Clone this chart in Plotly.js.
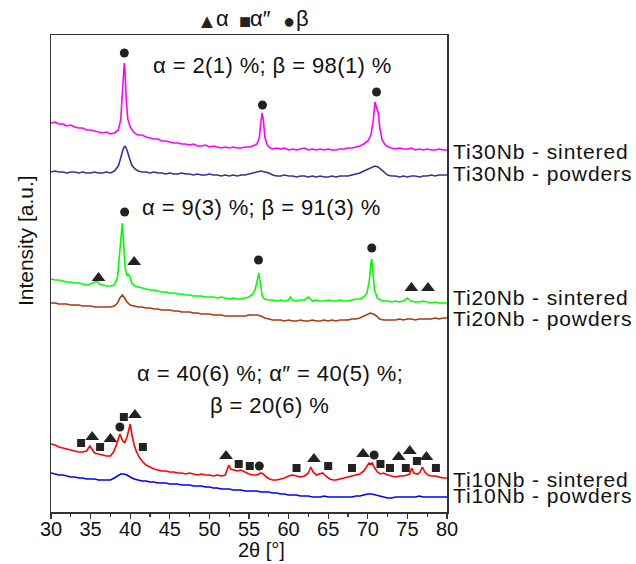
<!DOCTYPE html>
<html><head><meta charset="utf-8">
<script src="https://cdn.plot.ly/plotly-3.0.1.min.js"></script>
<style>html,body{margin:0;padding:0;background:#fff;}#chart{width:636px;height:564px;}</style>
</head><body><div id="chart"></div>
<script>
// Ti30Nb sintered
const t30sX = [30,30.5,31,31.5,32,32.5,33,33.5,34,34.5,35,35.5,36,36.5,37,37.5,38,38.5,38.8,39.0,39.15,39.25,39.35,39.5,39.7,40,40.5,41,41.5,42,42.5,43,43.5,44,44.5,45,45.5,46,46.5,47,47.5,48,48.5,49,49.5,50,50.5,51,51.5,52,52.5,53,53.5,54,54.5,55,55.5,56,56.3,56.5,56.65,56.8,57.0,57.3,57.7,58,58.5,59,59.5,60,60.5,61,61.5,62,62.5,63,63.5,64,64.5,65,65.5,66,66.5,67,67.5,68,68.5,69,69.5,70,70.4,70.7,70.9,71.05,71.2,71.35,71.5,71.8,72.2,72.6,73,73.5,74,74.5,75,75.5,76,76.5,77,77.5,78,78.5,79,79.5,80];
const t30sY = [389,390,388,388,386,387,385,384,384,382,382,381,380,379,380,378,379,382,392,420,443,449,440,412,393,385,379,377,377,375,374,373,373,371,371,370,369,369,368,368,367,368,366,366,367,365,366,365,364,365,364,365,364,364,365,365,366,368,374,390,399,393,375,367,364,363,364,363,364,362,363,362,363,364,362,363,362,363,362,363,362,362,363,363,364,364,365,366,368,371,377,392,410,405,400,398,385,372,367,365,364,363,364,363,363,364,362,363,362,363,362,362,363,362,362];
// Ti30Nb powders
const t30pX = [30,30.5,31,31.5,32,32.5,33,33.5,34,34.5,35,35.5,36,36.5,37,37.5,38,38.5,38.8,39.1,39.35,39.6,39.9,40.2,40.6,41,41.5,42,42.5,43,43.5,44,44.5,45,45.5,46,46.5,47,47.5,48,48.5,49,49.5,50,50.5,51,51.5,52,52.5,53,53.5,54,54.5,55,55.5,56,56.5,57,57.5,58,58.5,59,59.5,60,60.5,61,61.5,62,62.5,63,63.5,64,64.5,65,65.5,66,66.5,67,67.5,68,68.5,69,69.5,70,70.5,70.9,71.3,71.7,72.1,72.5,73,73.5,74,74.5,75,75.5,76,76.5,77,77.5,78,78.5,79,79.5,80];
const t30pY = [340,341,340,340,339,340,340,339,340,339,339,340,339,339,340,339,341,346,354,363,366,362,354,347,343,341,340,340,339,340,339,339,338,339,338,338,339,338,338,337,338,337,337,338,337,337,336,337,336,337,336,337,337,338,339,340,341,340,339,337,336,336,337,336,336,335,336,336,335,336,335,336,335,335,336,335,336,336,336,337,338,339,341,343,345,346,345,342,339,337,336,336,335,336,335,336,336,335,336,336,337,336,337,337,337];
// Ti20Nb sintered
const t20sX = [30,30.5,31,31.5,32,32.5,33,33.5,34,34.5,35,35.5,35.8,36.1,36.5,37,37.5,38,38.4,38.7,38.9,39.0,39.15,39.35,39.6,39.8,39.95,40.2,40.6,41,41.5,42,42.5,43,43.5,44,44.5,45,45.5,46,46.5,47,47.5,48,48.5,49,49.5,50,50.5,51,51.5,52,52.5,53,53.5,54,54.5,55,55.5,55.8,56.05,56.25,56.45,56.7,57,57.5,58,58.5,59,59.5,60,60.2,60.5,61,61.5,62,62.5,62.8,63,63.5,64,64.5,65,65.5,66,66.5,67,67.5,68,68.5,69,69.5,69.9,70.2,70.4,70.5,70.65,70.85,71.2,71.6,72,72.5,73,73.5,74,74.5,75,75.4,76,76.5,77,77.5,78,78.5,79,79.5,80];
const t20sY = [233,232,232,231,230,230,229,229,228,227,228,230,231,228,227,226,226,227,235,265,287,289,270,245,236,238,235,229,226,225,224,223,222,222,221,220,220,219,219,218,218,217,217,216,216,216,215,215,215,214,215,214,213,214,213,213,214,215,218,223,232,239,228,215,213,212,212,211,212,211,212,215,212,211,212,212,215,212,211,212,211,211,212,211,211,212,211,211,212,213,213,215,219,232,250,253,240,222,214,212,211,211,210,211,210,211,214,211,210,210,211,210,209,210,209,209,209];
// Ti20Nb powders
const t20pX = [30,30.5,31,31.5,32,32.5,33,33.5,34,34.5,35,35.5,36,36.5,37,37.5,38,38.4,38.7,39.0,39.3,39.6,40,40.5,41,41.5,42,42.5,43,43.5,44,44.5,45,45.5,46,46.5,47,47.5,48,48.5,49,49.5,50,50.5,51,51.5,52,52.5,53,53.5,54,54.5,55,55.5,56,56.5,57,57.5,58,58.5,59,59.5,60,60.5,61,61.5,62,62.5,63,63.5,64,64.5,65,65.5,66,66.5,67,67.5,68,68.5,69,69.5,70,70.3,70.7,71.1,71.5,72,72.5,73,73.5,74,74.5,75,75.5,76,76.5,77,77.5,78,78.5,79,79.5,80];
const t20pY = [209,209,208,208,208,207,207,207,206,206,206,205,205,205,205,205,206,209,214,217,214,210,207,206,205,205,204,204,203,203,202,202,202,201,201,200,200,200,199,199,198,198,198,197,197,197,196,196,196,196,196,196,197,197,197,196,194,193,192,192,192,191,192,191,191,192,191,191,192,191,191,192,191,192,191,192,192,192,193,193,194,196,198,199,198,196,193,192,192,192,192,193,192,193,193,192,193,193,193,193,194,193,194,194];
// Ti10Nb sintered
const t10sX = [30,30.5,31,31.5,32,32.5,33,33.5,34,34.5,34.9,35.2,35.5,36,36.5,37,37.5,37.9,38.3,38.7,39.0,39.3,39.6,39.85,40.0,40.2,40.5,40.8,41.2,41.6,42,42.5,43,43.5,44,44.5,45,45.5,46,46.5,47,47.5,48,48.5,49,49.5,50,50.5,51,51.5,52,52.25,52.45,52.7,53,53.5,54,54.5,55,55.5,56,56.5,56.8,57.2,57.6,58,58.5,59,59.5,60,60.5,61,61.5,62,62.5,62.8,63.1,63.5,64,64.3,64.7,65.2,65.6,66,66.5,67,67.5,68,68.5,69,69.5,69.9,70.15,70.35,70.55,70.8,71.2,71.6,72,72.5,73,73.5,74,74.5,75,75.3,75.55,75.8,76.3,76.6,76.9,77.2,77.6,78,78.5,79,79.5,80];
const t10sY = [68,67,65,64,63,62,61,60,60,61,66,62,59,58,57,56,56,60,68,78,72,69,75,84,88,78,67,60,54,50,47,45,43,42,41,41,40,40,39,39,38,39,38,37,38,37,37,36,37,36,37,44,47,43,42,41,42,40,38,37,37,39,38,35,33,32,32,33,34,36,37,36,35,36,39,45,40,37,38,39,36,33,32,32,33,34,35,36,37,38,41,46,49,48,49,45,40,38,39,37,36,35,36,36,37,38,44,39,38,40,45,40,37,36,36,35,34,34];
// Ti10Nb powders
const t10pX = [30,30.5,31,31.5,32,32.5,33,33.5,34,34.5,35,35.5,36,36.5,37,37.5,38,38.4,38.8,39.2,39.6,40,40.5,41,41.5,42,42.5,43,43.5,44,44.5,45,45.5,46,46.5,47,47.5,48,48.5,49,49.5,50,50.5,51,51.5,52,52.5,53,53.5,54,54.5,55,55.5,56,56.5,57,57.5,58,58.5,59,59.5,60,60.5,61,61.5,62,62.5,63,63.5,64,64.5,65,65.5,66,66.5,67,67.5,68,68.5,69,69.5,70,70.5,71,71.5,72,72.5,73,73.5,74,74.5,75,75.5,76,76.5,77,77.5,78,78.5,79,79.5,80];
const t10pY = [39,38,37,37,36,35,35,34,34,33,33,33,32,32,32,32,34,36,38,38,37,35,33,32,31,31,30,30,29,29,29,28,28,28,27,27,27,26,26,26,25,25,24,24,23,23,23,22,22,22,21,21,21,21,20,20,20,19,19,18,18,17,17,17,16,16,16,15,15,15,16,15,15,15,15,15,15,15,16,16,17,18,18,17,16,15,14,14,15,15,15,15,15,15,16,15,15,15,15,15,15,15];

// phase markers (peak positions and heights)
const alphaX = [36.0,40.5,75.5,77.6, 35.2,37.5,40.6,52.1,63.2,69.4,73.9,75.3,77.4];
const alphaY = [234,250,224,224, 75,73,97,56,53,58,55,61,55];
const alpha2X = [33.8,36.2,39.2,41.6,53.7,55.1,61.0,65.0,68.0,71.6,72.8,74.8,76.2,78.6];
const alpha2Y = [69,65,95,65,48,46,44,46,44,48,44,44,51,44];
const betaX = [39.26,56.7,71.1, 39.3,56.2,70.5, 38.7,56.3,70.8];
const betaY = [459,407,420, 300,252,264, 85,46,57];

const seriesLabels = ['Ti30Nb - sintered','Ti30Nb - powders','Ti20Nb - sintered','Ti20Nb - powders','Ti10Nb - sintered','Ti10Nb - powders'];
const labelY = [361,339,215,194,33,17];
const phaseTexts = ['α = 2(1) %; β = 98(1) %','α = 9(3) %; β = 91(3) %','α = 40(6) %; α″ = 40(5) %;','β = 20(6) %'];
const phaseTextX = [58.0,56.6,57.65,57.65];
const phaseTextY = [447,305,139,107];
const keySymbols = ['▲','■','●'];
const keyNames = ['α','α″','β'];

const colors = ['#FF00FF','#333399','#00FF00','#A83C0C','#FF0000','#0000FF'];
const xs = [t30sX,t30pX,t20sX,t20pX,t10sX,t10pX];
const ys = [t30sY,t30pY,t20sY,t20pY,t10sY,t10pY];
const font = 'Liberation Sans, Arial, sans-serif';

const traces = xs.map((x,i)=>({x:x,y:ys[i],type:'scatter',mode:'lines',line:{color:colors[i],width:1.6},hoverinfo:'skip'}));
traces.push({x:alphaX,y:alphaY,type:'scatter',mode:'markers',marker:{symbol:'triangle-up',size:12,color:'#222'}});
traces.push({x:alpha2X,y:alpha2Y,type:'scatter',mode:'markers',marker:{symbol:'square',size:8,color:'#222'}});
traces.push({x:betaX,y:betaY,type:'scatter',mode:'markers',marker:{symbol:'circle',size:9,color:'#222'}});

const annotations = [];
seriesLabels.forEach((t,i)=>annotations.push({text:'<span style="letter-spacing:0.9px">'+t+'</span>',xref:'paper',x:1,xanchor:'left',xshift:4,yref:'y',y:labelY[i],yanchor:'middle',showarrow:false,font:{family:font,size:21,color:'#111'}}));
phaseTexts.forEach((t,i)=>annotations.push({text:'<span style="letter-spacing:0.4px">'+t+'</span>',xref:'x',x:phaseTextX[i],yref:'y',y:phaseTextY[i],xanchor:'center',yanchor:'middle',showarrow:false,font:{family:font,size:22,color:'#111'}}));
// key above plot
const symX = [0.394,0.489,0.600];
const symSize = [20,20,20];
const nameX = [0.434,0.530,0.635];
keySymbols.forEach((s,i)=>{
  annotations.push({text:s,xref:'paper',x:symX[i],yref:'paper',y:1.030,xanchor:'center',yanchor:'middle',showarrow:false,font:{family:font,size:symSize[i],color:'#222'}});
  annotations.push({text:keyNames[i],xref:'paper',x:nameX[i],yref:'paper',y:1.034,xanchor:'center',yanchor:'middle',showarrow:false,font:{family:font,size:22,color:'#111'}});
});
annotations.push({text:'Intensity [a.u.]',xref:'paper',x:-0.0657,yref:'paper',y:0.57,textangle:-90,xanchor:'center',yanchor:'middle',showarrow:false,font:{family:font,size:21,color:'#111'}});
annotations.push({text:'2θ [°]',xref:'paper',x:0.532,yref:'paper',y:-0.08,xanchor:'center',yanchor:'middle',showarrow:false,font:{family:font,size:20,color:'#111'}});

const layout = {
  width:636,height:564,
  margin:{l:51,r:189,t:35,b:52},
  paper_bgcolor:'#fff',plot_bgcolor:'#fff',
  showlegend:false,
  xaxis:{range:[30,80],dtick:5,tick0:30,ticks:'outside',ticklen:5,tickwidth:1.2,tickcolor:'#333',ticklabelstandoff:-7,
    minor:{dtick:2.5,ticks:'outside',ticklen:3,tickcolor:'#333',tickwidth:1.2},
    showgrid:false,zeroline:false,showline:true,linecolor:'#333',linewidth:1.5,mirror:true,
    tickfont:{family:font,size:20,color:'#111'}},
  yaxis:{range:[0,477],showticklabels:false,ticks:'',showgrid:false,zeroline:false,showline:true,linecolor:'#333',linewidth:1.5,mirror:true},
  annotations:annotations
};
Plotly.newPlot('chart',traces,layout,{staticPlot:true});
</script></body></html>
